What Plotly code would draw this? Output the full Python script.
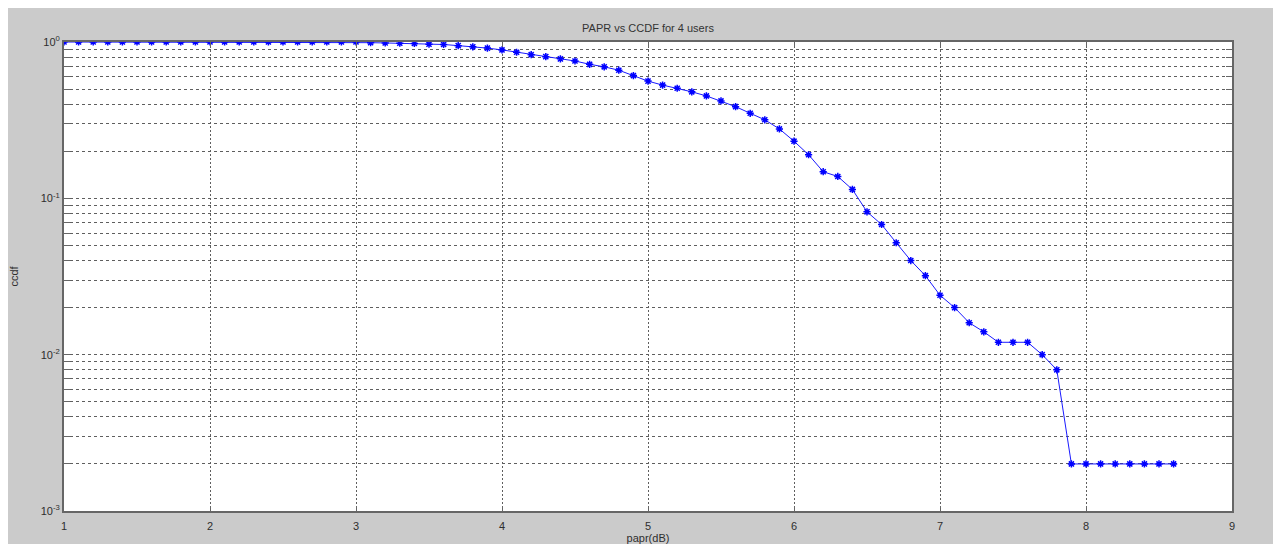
import numpy as np
import plotly.graph_objects as go

# PAPR threshold (dB)
papr_db = [round(1.0 + 0.1 * i, 1) for i in range(77)]  # 1.0 .. 8.6

# CCDF values
ccdf = [
    1.0, 1.0, 1.0, 1.0, 1.0, 1.0, 1.0, 1.0, 1.0, 1.0,          # 1.0-1.9
    1.0, 1.0, 1.0, 1.0, 1.0, 1.0, 1.0, 1.0, 1.0, 1.0,          # 2.0-2.9
    1.0, 0.99, 0.986, 0.982, 0.978, 0.968, 0.964, 0.948, 0.932, 0.914,  # 3.0-3.9
    0.89, 0.86, 0.83, 0.806, 0.78, 0.756, 0.72, 0.694, 0.66, 0.61,      # 4.0-4.9
    0.562, 0.53, 0.506, 0.48, 0.452, 0.42, 0.386, 0.35, 0.318, 0.278,   # 5.0-5.9
    0.232, 0.19, 0.148, 0.138, 0.114, 0.082, 0.068, 0.052, 0.04, 0.032, # 6.0-6.9
    0.024, 0.02, 0.016, 0.014, 0.012, 0.012, 0.012, 0.01, 0.008, 0.002, # 7.0-7.9
    0.002, 0.002, 0.002, 0.002, 0.002, 0.002, 0.002,                    # 8.0-8.6
]

x_ticks = [1, 2, 3, 4, 5, 6, 7, 8, 9]
decades = [-3, -2, -1, 0]
y_major = [10.0 ** d for d in decades]
y_major_text = [f"10<sup>{d}</sup>" for d in decades]
y_minor = [m * 10.0 ** d for d in decades[:-1] for m in range(2, 10)]

# page body adds an 8px offset; figure sized to fit inside the window
W, H = 1265, 536
L, R, T, B = 56, 41, 34, 33

fig = go.Figure()
fig.add_trace(go.Scatter(
    x=papr_db, y=ccdf, mode="lines+markers",
    line=dict(color="#1a1aff", width=1),
    marker=dict(symbol="asterisk-open", size=6, color="#0000ff",
                line=dict(color="#0000ff", width=1.5)),
    showlegend=False,
))

grid_col = "#5e5e5e"
axis_font = dict(family="Liberation Sans, Arial, sans-serif", size=11, color="#2e2e2e")

fig.update_layout(
    width=W, height=H,
    margin=dict(l=L, r=R, t=T, b=B, pad=0, autoexpand=False),
    paper_bgcolor="#cbcbcb",
    plot_bgcolor="#ffffff",
    title=dict(text="PAPR vs CCDF for 4 users", x=(648 - 8) / W, xref="container",
               y=1 - 20 / H, yref="container", xanchor="center", yanchor="middle",
               font=dict(family="Liberation Sans, Arial, sans-serif", size=11, color="#333333")),
    xaxis=dict(
        range=[1, 9], tickvals=x_ticks, ticktext=[str(v) for v in x_ticks],
        showgrid=True, gridcolor=grid_col, griddash="2px,2px", gridwidth=1,
        showline=True, linecolor="#666666", linewidth=2, mirror="allticks",
        ticks="inside", ticklen=5, tickcolor="#666666", tickwidth=1,
        tickfont=axis_font, zeroline=False, ticklabelstandoff=4,
        title=dict(text="papr(dB)", font=axis_font, standoff=1),
    ),
    yaxis=dict(
        type="log", range=[-3, 0], tickvals=y_major, ticktext=y_major_text,
        showgrid=True, gridcolor=grid_col, griddash="3px,3px", gridwidth=1,
        showline=True, linecolor="#666666", linewidth=2, mirror="allticks",
        ticks="inside", ticklen=6, tickcolor="#666666", tickwidth=1,
        tickfont=axis_font, zeroline=False,
        minor=dict(tickvals=y_minor, showgrid=True, gridcolor=grid_col,
                   griddash="3px,3px", gridwidth=1, ticks="inside", ticklen=6,
                   tickcolor="#666666", tickwidth=1),
        title=dict(text="ccdf", font=axis_font, standoff=20),
    ),
)

fig.write_html("out.html")
